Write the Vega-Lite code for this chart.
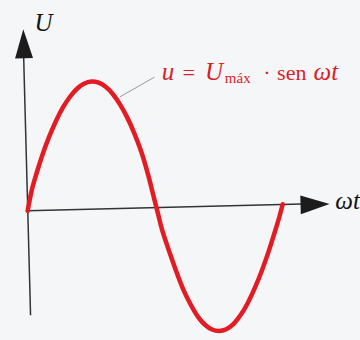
{
  "$schema": "https://vega.github.io/schema/vega-lite/v6.json",
  "width": 360,
  "height": 340,
  "autosize": {"type": "fit", "contains": "padding"},
  "padding": 0,
  "background": "#f4f6f8",
  "config": {"view": {"stroke": null}},
  "datasets": {
    "wave": [
      {"theta": 0, "u": 0},
      {"theta": 5, "u": 0.145},
      {"theta": 10, "u": 0.251},
      {"theta": 20, "u": 0.432},
      {"theta": 30, "u": 0.587},
      {"theta": 40, "u": 0.718},
      {"theta": 50, "u": 0.828},
      {"theta": 60, "u": 0.914},
      {"theta": 70, "u": 0.978},
      {"theta": 80, "u": 1.018},
      {"theta": 90, "u": 1.033},
      {"theta": 100, "u": 1.024},
      {"theta": 110, "u": 0.991},
      {"theta": 120, "u": 0.934},
      {"theta": 130, "u": 0.853},
      {"theta": 140, "u": 0.751},
      {"theta": 150, "u": 0.625},
      {"theta": 160, "u": 0.477},
      {"theta": 165, "u": 0.385},
      {"theta": 170, "u": 0.285},
      {"theta": 175, "u": 0.175},
      {"theta": 180, "u": 0.062},
      {"theta": 185, "u": -0.05},
      {"theta": 190, "u": -0.16},
      {"theta": 200, "u": -0.33},
      {"theta": 210, "u": -0.49},
      {"theta": 220, "u": -0.635},
      {"theta": 230, "u": -0.75},
      {"theta": 240, "u": -0.845},
      {"theta": 250, "u": -0.91},
      {"theta": 260, "u": -0.948},
      {"theta": 270, "u": -0.96},
      {"theta": 280, "u": -0.946},
      {"theta": 290, "u": -0.905},
      {"theta": 300, "u": -0.835},
      {"theta": 310, "u": -0.74},
      {"theta": 320, "u": -0.62},
      {"theta": 330, "u": -0.48},
      {"theta": 340, "u": -0.32},
      {"theta": 350, "u": -0.14},
      {"theta": 355, "u": -0.045},
      {"theta": 359.6, "u": 0.053}
    ],
    "axes": [
      {"theta": 0, "u": 0, "theta2": 386.4, "u2": 0.0551},
      {"theta": 4.17, "u": -0.835, "theta2": -5.56, "u2": 1.228}
    ],
    "arrowUp": [{"theta": -5.56, "u": 1.335}],
    "arrowRight": [{"theta": 405.2, "u": 0.0512}],
    "leader": [{"theta": 130.2, "u": 0.911, "theta2": 178.9, "u2": 1.069}],
    "axisLabels": [
      {"theta": 9.73, "u": 1.441, "label": "U"},
      {"theta": 433.7, "u": 0.0157, "label": "ωt"}
    ],
    "formulaItalic": [
      {"theta": 189.0, "u": 1.047, "label": "u"},
      {"theta": 250.2, "u": 1.047, "label": "U"},
      {"theta": 403.1, "u": 1.047, "label": "ωt"}
    ],
    "formulaUpright": [
      {"theta": 218.2, "u": 1.047, "label": "="},
      {"theta": 332.2, "u": 1.047, "label": "·"},
      {"theta": 351.7, "u": 1.047, "label": "sen"}
    ],
    "formulaSub": [
      {"theta": 278.0, "u": 1.024, "label": "máx"}
    ]
  },
  "encoding": {
    "x": {"field": "theta", "type": "quantitative", "scale": {"domain": [-38.92, 461.5], "nice": false, "zero": false}, "axis": null},
    "y": {"field": "u", "type": "quantitative", "scale": {"domain": [-0.992, 1.685], "nice": false, "zero": false}, "axis": null}
  },
  "layer": [
    {
      "data": {"name": "axes"},
      "mark": {"type": "rule", "color": "#333333", "strokeWidth": 1.5},
      "encoding": {
        "x2": {"field": "theta2"},
        "y2": {"field": "u2"}
      }
    },
    {
      "data": {"name": "arrowUp"},
      "mark": {"type": "point", "shape": "M0,-1L0.62,1L-0.62,1Z", "size": 841, "filled": true, "color": "#1c1c1c", "opacity": 1, "angle": -1.5}
    },
    {
      "data": {"name": "arrowRight"},
      "mark": {"type": "point", "shape": "M0,-1L0.65,1L-0.65,1Z", "size": 841, "filled": true, "color": "#1c1c1c", "opacity": 1, "angle": 88.5}
    },
    {
      "data": {"name": "leader"},
      "mark": {"type": "rule", "color": "#9a9a9a", "strokeWidth": 1},
      "encoding": {
        "x2": {"field": "theta2"},
        "y2": {"field": "u2"}
      }
    },
    {
      "data": {"name": "wave"},
      "mark": {"type": "line", "color": "#e31b23", "strokeWidth": 4.5, "interpolate": "natural", "strokeCap": "round"}
    },
    {
      "data": {"name": "axisLabels"},
      "mark": {"type": "text", "font": "Liberation Serif", "fontStyle": "italic", "fontSize": 25, "align": "left", "baseline": "alphabetic", "color": "#141414"},
      "encoding": {"text": {"field": "label"}}
    },
    {
      "data": {"name": "formulaItalic"},
      "mark": {"type": "text", "font": "Liberation Serif", "fontStyle": "italic", "fontSize": 25, "align": "left", "baseline": "alphabetic", "color": "#d81e26"},
      "encoding": {"text": {"field": "label"}}
    },
    {
      "data": {"name": "formulaUpright"},
      "mark": {"type": "text", "font": "Liberation Serif", "fontSize": 22, "align": "left", "baseline": "alphabetic", "color": "#d81e26"},
      "encoding": {"text": {"field": "label"}}
    },
    {
      "data": {"name": "formulaSub"},
      "mark": {"type": "text", "font": "Liberation Serif", "fontSize": 15, "align": "left", "baseline": "alphabetic", "color": "#d81e26"},
      "encoding": {"text": {"field": "label"}}
    }
  ]
}
